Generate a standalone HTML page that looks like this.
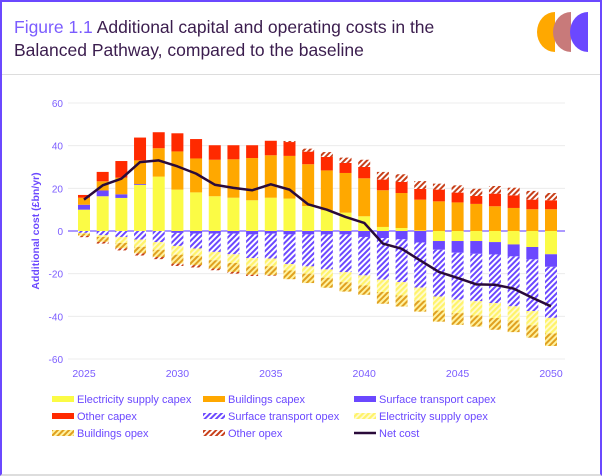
<!DOCTYPE html>
<html><head><meta charset="utf-8">
<style>
html,body{margin:0;padding:0;background:#fff;}
#wrap{position:relative;width:602px;height:476px;overflow:hidden;font-family:"Liberation Sans",sans-serif;}
#frame{position:absolute;left:0;top:0;width:598px;height:472px;border:2px solid #6b48ff;border-bottom:2px solid #ddd;}
#title{position:absolute;left:14px;top:16px;font-size:17.5px;line-height:23px;color:#3b1d4e;width:425px;}
#title .fig{color:#7b5cff;}
#sep{position:absolute;left:2px;top:74px;width:598px;height:1px;background:#ddd;}
</style></head>
<body>
<div id="wrap">
<div id="frame"></div>
<div id="title"><span class="fig">Figure 1.1</span> Additional capital and operating costs in the Balanced Pathway, compared to the baseline</div>
<svg style="position:absolute;left:530px;top:12px" width="62" height="40">
<path d="M25 0 A18 20 0 0 0 25 40 Z" fill="#ffa800"/>
<path d="M41 0 A18 20 0 0 0 41 40 Z" fill="#c87a7a"/>
<path d="M58 0 A18 20 0 0 0 58 40 Z" fill="#6b48ff"/>
</svg>
<div id="sep"></div>
<svg id="chart" style="position:absolute;left:0;top:0" width="602" height="476">
<defs>
<pattern id="hPurple" width="4" height="4" patternUnits="userSpaceOnUse" patternTransform="rotate(45)"><rect width="4" height="4" fill="#fff"/><rect width="2" height="4" fill="#6b48ff"/></pattern>
<pattern id="hYellow" width="4" height="4" patternUnits="userSpaceOnUse" patternTransform="rotate(45)"><rect width="4" height="4" fill="#fffbd0"/><rect width="2.2" height="4" fill="#fff36a"/></pattern>
<pattern id="hOrange" width="4" height="4" patternUnits="userSpaceOnUse" patternTransform="rotate(45)"><rect width="4" height="4" fill="#fff3a0"/><rect width="2" height="4" fill="#e0a020"/></pattern>
<pattern id="hRed" width="4" height="4" patternUnits="userSpaceOnUse" patternTransform="rotate(45)"><rect width="4" height="4" fill="#fff"/><rect width="2" height="4" fill="#c8401a"/></pattern>
</defs>
<g id="grid"></g><g id="bars"></g><g id="line"></g><g id="axes"></g><g id="legend"></g>
</svg>
</div>
<script>
const years=[2025,2026,2027,2028,2029,2030,2031,2032,2033,2034,2035,2036,2037,2038,2039,2040,2041,2042,2043,2044,2045,2046,2047,2048,2049,2050];
const elecCapex=[10,16.3,15.5,21.6,25.5,19.4,18.1,16.3,15.6,14.4,15.6,15.2,11.7,9.7,8.6,6.9,1.9,1.4,0.3,-4.7,-4.7,-4.7,-5.2,-6.3,-7.5,-10.9];
const bldCapex=[3.3,4.3,7.8,11.1,13.3,17.9,15.9,17.1,18,19.8,19.9,20,19.6,18.7,18.6,17.8,17.2,16.4,14.4,13.9,13.4,12.7,11.6,10.8,10.2,10.2];
const stCapex=[2.3,2.7,1.7,0.4,0,-0.9,-1.2,-1.2,-1.2,-1.6,-1.2,-1.6,-1.6,-1.6,-1.6,-2.8,-3.3,-3.9,-5.4,-4.1,-5.5,-6,-5.8,-5.6,-5.8,-5.9];
const otherCapex=[1.3,4.4,7.8,10.7,7.5,8.5,9.1,6.8,6.6,6,6.8,6.5,5.9,6.3,4.7,5.3,5,5.2,5,5.5,4.6,3.7,5.9,5.9,4.5,4.2];
const stOpex=[-0.9,-2,-2.8,-4,-5.2,-6.1,-7,-8.6,-9.7,-11.1,-11.7,-13.9,-15,-16.4,-17.7,-18,-19.5,-20,-21.1,-21.9,-22,-22.2,-22.8,-23.4,-24.2,-23.9];
const elecOpex=[-0.3,-0.8,-2.8,-3.4,-3.6,-4.1,-3.4,-3.9,-4.1,-3.9,-3.6,-3,-3.4,-3.9,-4.7,-4.7,-5.8,-6.3,-6.1,-6.6,-6.3,-6.7,-7,-6.6,-6.7,-7.3];
const bldOpex=[-1.1,-2.3,-2.5,-3.1,-3.4,-4.2,-4.4,-3.9,-4.2,-3.9,-4.2,-4.1,-4.4,-4.7,-4.4,-4.4,-5.5,-5.2,-5.2,-5.2,-5.5,-5.2,-5.5,-5.5,-5.8,-5.9];
const otherOpex=[-0.6,-0.8,-1,-1,-1,-1.1,-1.1,-0.8,-0.8,-0.6,-0.3,0.5,1.4,2.3,2.5,3.4,3.6,3.6,3.7,2.8,3.4,3.4,3.6,3.6,4.1,3.4];
const netCost=[14.7,21.4,24.5,32.3,33.1,30.3,26.9,21.7,20.2,19.1,21.9,19.4,12.5,10,6.6,3.8,-5.9,-8.3,-13.8,-19.2,-22,-25,-25.2,-27,-31.3,-35.3];
const yTicks=[60,40,20,0,-20,-40,-60];
const xTicks=[2025,2030,2035,2040,2045,2050];

const NS="http://www.w3.org/2000/svg";
const y=v=>231-v*128/60;
const x=yr=>84+(yr-2025)*(551-84)/25;
const BW=12;
function mk(tag,attrs,parent){const e=document.createElementNS(NS,tag);for(const k in attrs)e.setAttribute(k,attrs[k]);parent.appendChild(e);return e;}
const grid=document.getElementById('grid'),bars=document.getElementById('bars'),lineG=document.getElementById('line'),axes=document.getElementById('axes'),legG=document.getElementById('legend');
yTicks.forEach(t=>{
  const g=mk('line',{x1:68,x2:565,y1:y(t),y2:y(t),stroke:t===0?'#7b5cff':'#ececec','stroke-width':t===0?1.2:1},grid);
  
  
  const tx=mk('text',{x:63,y:y(t)+4,'text-anchor':'end','font-size':10,fill:'#7b5cff','font-family':'Liberation Sans, sans-serif'},axes);
  tx.textContent=t;
  
  
});
xTicks.forEach(t=>{
  const tx=mk('text',{x:x(t),y:377,'text-anchor':'middle','font-size':10.5,fill:'#7b5cff','font-family':'Liberation Sans, sans-serif'},axes);
  tx.textContent=t;
  
  
});
const yt=mk('text',{x:0,y:0,transform:'translate(39,231) rotate(-90)','text-anchor':'middle','font-size':10.5,'font-weight':'bold',fill:'#6b48ff','font-family':'Liberation Sans, sans-serif'},axes);
yt.textContent='Additional cost (£bn/yr)';



const series=[
 {d:elecCapex,f:'#fbfb45',n:'electricity-supply-capex'},
 {d:stCapex,f:'#6b48ff',n:'surface-transport-capex'},
 {d:bldCapex,f:'#ffa800',n:'buildings-capex'},
 {d:otherCapex,f:'#ff2a00',n:'other-capex'},
 {d:stOpex,f:'url(#hPurple)',n:'surface-transport-opex'},
 {d:elecOpex,f:'url(#hYellow)',n:'electricity-supply-opex'},
 {d:bldOpex,f:'url(#hOrange)',n:'buildings-opex'},
 {d:otherOpex,f:'url(#hRed)',n:'other-opex'}
];
years.forEach((yr,i)=>{
  let pos=0,neg=0;
  series.forEach(s=>{
    const v=s.d[i]; if(!v) return;
    let a,b;
    if(v>0){a=pos;b=pos+v;pos=b;}else{a=neg;b=neg+v;neg=b;}
    const r=mk('rect',{x:x(yr)-BW/2,y:Math.min(y(a),y(b)),width:BW,height:Math.abs(y(a)-y(b)),fill:s.f},bars);
    
    
  });
});
const pl=mk('polyline',{points:years.map((yr,i)=>x(yr)+','+y(netCost[i])).join(' '),fill:'none',stroke:'#2a0a3a','stroke-width':2.5,'stroke-linejoin':'round'},lineG);



const legItems=[
 ['Electricity supply capex','#fbfb45','rect'],['Buildings capex','#ffa800','rect'],['Surface transport capex','#6b48ff','rect'],
 ['Other capex','#ff2a00','rect'],['Surface transport opex','url(#hPurple)','hatch'],['Electricity supply opex','url(#hYellow)','hatch'],
 ['Buildings opex','url(#hOrange)','hatch'],['Other opex','url(#hRed)','hatch'],['Net cost','#2a0a3a','line']
];
const colX=[52,203,354],rowY=[399,416,433];
legItems.forEach((it,k)=>{
  const cx=colX[k%3],cy=rowY[Math.floor(k/3)];
  const g=mk('g',{},legG);
  
  
  if(it[2]==='line') mk('line',{x1:cx,x2:cx+22,y1:cy,y2:cy,stroke:it[1],'stroke-width':2.5},g);
  else mk('rect',{x:cx,y:cy-3,width:22,height:6,fill:it[1]},g);
  const t=mk('text',{x:cx+25,y:cy+4,'font-size':11,fill:'#6b48ff','font-family':'Liberation Sans, sans-serif'},g);
  t.textContent=it[0];
});
</script>
</body></html>
